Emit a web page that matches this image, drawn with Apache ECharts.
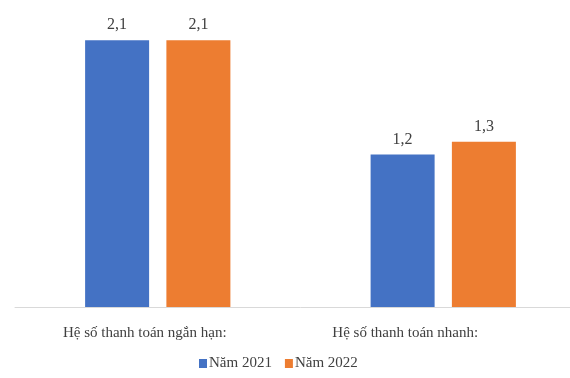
<!DOCTYPE html>
<html>
<head>
<meta charset="utf-8">
<script src="https://cdn.jsdelivr.net/npm/echarts@6/dist/echarts.min.js"></script>
<style>
  html, body { margin: 0; padding: 0; background: #fff; overflow: hidden; }
  #chart { width: 586px; height: 378px; }
</style>
</head>
<body>
<div id="chart"></div>
<script>
// Liquidity ratios, 2021 vs 2022
const categories = ['Hệ số thanh toán ngắn hạn:', 'Hệ số thanh toán nhanh:'];
const seriesNames = ['Năm 2021', 'Năm 2022'];
const values2021 = [2.1, 1.2];
const values2022 = [2.1, 1.3];
const colors = ['#4472C4', '#ED7D31'];

const font = '"Liberation Serif", "DejaVu Serif", serif';
const chart = echarts.init(document.getElementById('chart'), null, { renderer: 'canvas' });

// category labels sit a little left of their bar groups
const labelPads = [[0, 26, 0, 0], [0, 76, 0, 0]];

function barSeries(name, data, color) {
  return {
    name: name,
    type: 'bar',
    data: data,
    barWidth: 64,
    barGap: '27%',
    itemStyle: { color: color },
    label: {
      show: true,
      position: 'top',
      distance: 7,
      color: '#404040',
      fontFamily: font,
      fontSize: 16,
      formatter: p => p.value.toFixed(1).replace('.', ',')
    }
  };
}

chart.setOption({
  animation: false,
  textStyle: { fontFamily: font },
  // the plot area runs past the right edge of the visible page
  grid: { left: 15, right: 0, top: 2, bottom: 71 },
  legend: {
    top: 356,
    left: 199,
    padding: 0,
    itemWidth: 8,
    itemHeight: 9,
    itemGap: 13,
    icon: 'rect',
    textStyle: { color: '#404040', fontFamily: font, fontSize: 15, padding: [0, 0, 0, -3] },
    data: seriesNames
  },
  xAxis: {
    type: 'category',
    data: categories.map((c, i) => ({ value: c, textStyle: { padding: labelPads[i] } })),
    axisLine: { lineStyle: { color: '#D9D9D9', width: 1 } },
    axisTick: { show: false },
    axisLabel: { color: '#404040', fontFamily: font, fontSize: 15, margin: 19 }
  },
  yAxis: {
    type: 'value',
    min: 0,
    max: 2.4,
    show: false,
    splitLine: { show: false }
  },
  series: [
    barSeries(seriesNames[0], values2021, colors[0]),
    barSeries(seriesNames[1], values2022, colors[1])
  ]
});
</script>
</body>
</html>
